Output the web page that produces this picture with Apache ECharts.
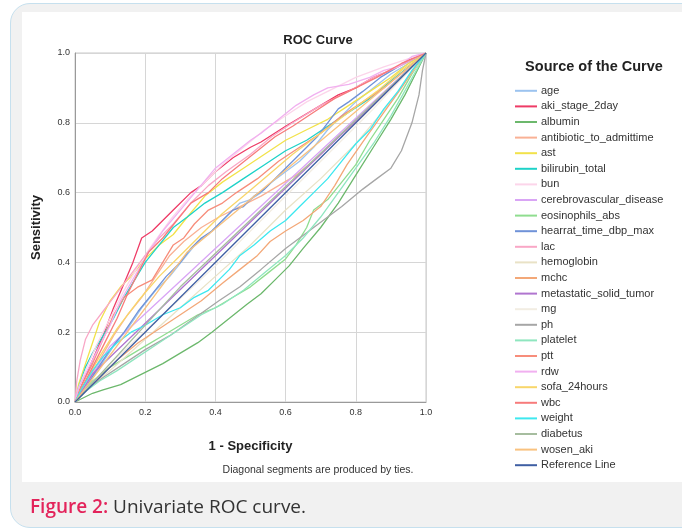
<!DOCTYPE html>
<html>
<head>
<meta charset="utf-8">
<script src="https://cdn.jsdelivr.net/npm/echarts@6/dist/echarts.min.js"></script>
<style>
  html, body { margin: 0; padding: 0; background: #fff; }
  #frame { position: absolute; left: 10px; top: 3px; width: 700px; height: 523px; background: #f1f1f1; border: 1px solid #c6e0ee; border-radius: 20px; }
  #panel { position: absolute; left: 22px; top: 12px; width: 660px; height: 470px; background: #fff; }
  #chart { position: absolute; left: 0; top: 0; width: 682px; height: 532px; }
  #caption { position: absolute; left: 30px; top: 493px; font-family: "Open Sans", sans-serif; font-size: 19px; color: #333; }
  #caption b { color: #e3245b; font-weight: 600; }
</style>
</head>
<body>
<div id="frame"></div>
<div id="panel"></div>
<div id="chart"></div>
<div id="caption"><b>Figure 2:</b> Univariate ROC curve.</div>
<script>
  // curve names in legend order
  const names = [
    "age", "aki_stage_2day", "albumin", "antibiotic_to_admittime", "ast", "bilirubin_total",
    "bun", "cerebrovascular_disease", "eosinophils_abs", "hearrat_time_dbp_max", "lac",
    "hemoglobin", "mchc", "metastatic_solid_tumor", "mg", "ph", "platelet", "ptt", "rdw",
    "sofa_24hours", "wbc", "weight", "diabetus", "wosen_aki", "Reference Line",
  ];
  const colors = [
    "#9cc3ef", "#ee3b66", "#6cb86c", "#f9b195", "#f2e24a", "#1ed2c8",
    "#fcd5ea", "#d9a5f5", "#8fdd8f", "#6f92d8", "#f9a7c6",
    "#e9e2c6", "#f3a878", "#b075cf", "#f2ede2", "#a6a6a6", "#8fe6bf", "#f78d7b", "#f1b0f0",
    "#f8d66a", "#f77b7b", "#3ee8ef", "#a6bd9f", "#f9c27f", "#3f5fa3",
  ];

  // [1 - specificity, sensitivity]
  const age = [[0,0],[0.03,0.04],[0.07,0.1],[0.11,0.16],[0.15,0.21],[0.19,0.27],[0.23,0.32],[0.27,0.36],[0.31,0.41],[0.35,0.46],[0.38,0.48],[0.41,0.51],[0.44,0.54],[0.47,0.57],[0.5,0.58],[0.53,0.6],[0.56,0.63],[0.6,0.66],[0.64,0.69],[0.68,0.73],[0.72,0.78],[0.76,0.82],[0.8,0.86],[0.85,0.9],[0.9,0.94],[0.95,0.97],[1,1]];
  const akiStage = [[0,0],[0.02,0.05],[0.05,0.12],[0.08,0.19],[0.11,0.27],[0.14,0.34],[0.165,0.4],[0.19,0.47],[0.22,0.49],[0.25,0.52],[0.28,0.55],[0.33,0.6],[0.36,0.62],[0.4,0.66],[0.45,0.7],[0.5,0.73],[0.53,0.745],[0.6,0.79],[0.65,0.82],[0.7,0.85],[0.75,0.88],[0.8,0.9],[0.85,0.93],[0.9,0.95],[0.95,0.98],[1,1]];
  const albumin = [[0,0],[0.02,0.01],[0.05,0.025],[0.08,0.035],[0.13,0.05],[0.2,0.085],[0.25,0.11],[0.3,0.14],[0.35,0.17],[0.39,0.2],[0.44,0.24],[0.49,0.28],[0.53,0.31],[0.57,0.35],[0.61,0.39],[0.65,0.44],[0.7,0.5],[0.75,0.57],[0.8,0.65],[0.85,0.73],[0.9,0.81],[0.94,0.88],[0.97,0.94],[1,1]];
  const antibiotic = [[0,0],[0.03,0.05],[0.07,0.12],[0.11,0.19],[0.15,0.25],[0.19,0.3],[0.23,0.36],[0.27,0.42],[0.31,0.46],[0.36,0.5],[0.41,0.53],[0.47,0.56],[0.53,0.59],[0.58,0.62],[0.63,0.65],[0.69,0.7],[0.75,0.76],[0.81,0.81],[0.87,0.87],[0.93,0.93],[1,1]];
  const ast = [[0,0],[0.01,0.05],[0.03,0.11],[0.05,0.17],[0.07,0.23],[0.1,0.29],[0.13,0.33],[0.16,0.36],[0.2,0.41],[0.24,0.45],[0.28,0.48],[0.32,0.53],[0.37,0.59],[0.42,0.63],[0.48,0.67],[0.54,0.71],[0.6,0.75],[0.66,0.78],[0.72,0.81],[0.78,0.85],[0.84,0.89],[0.9,0.93],[0.95,0.97],[1,1]];
  const bilirubin = [[0,0],[0.01,0.04],[0.03,0.1],[0.05,0.14],[0.08,0.19],[0.11,0.24],[0.14,0.3],[0.17,0.35],[0.2,0.4],[0.24,0.45],[0.28,0.5],[0.32,0.53],[0.37,0.57],[0.42,0.6],[0.48,0.64],[0.54,0.68],[0.6,0.72],[0.66,0.75],[0.72,0.79],[0.78,0.83],[0.84,0.87],[0.9,0.92],[0.95,0.96],[1,1]];
  const bun = [[0,0],[0.01,0.04],[0.03,0.09],[0.06,0.16],[0.1,0.24],[0.14,0.32],[0.18,0.39],[0.22,0.45],[0.27,0.52],[0.32,0.58],[0.37,0.63],[0.42,0.68],[0.48,0.73],[0.54,0.78],[0.6,0.82],[0.66,0.86],[0.72,0.89],[0.8,0.93],[0.88,0.96],[0.94,0.98],[1,1]];
  const cerebro = [[0,0],[0.1,0.16],[1,1]];
  const eosinophils = [[0,0],[0.02,0.03],[0.05,0.06],[0.1,0.1],[0.15,0.13],[0.2,0.16],[0.25,0.19],[0.3,0.22],[0.35,0.25],[0.4,0.27],[0.45,0.3],[0.5,0.33],[0.55,0.37],[0.6,0.41],[0.63,0.45],[0.66,0.5],[0.68,0.55],[0.72,0.58],[0.76,0.63],[0.8,0.68],[0.84,0.75],[0.88,0.81],[0.92,0.87],[0.96,0.94],[1,1]];
  const hearrat = [[0,0],[0.03,0.04],[0.06,0.09],[0.1,0.15],[0.14,0.2],[0.18,0.26],[0.22,0.31],[0.26,0.36],[0.3,0.4],[0.33,0.44],[0.36,0.47],[0.39,0.49],[0.42,0.52],[0.45,0.55],[0.48,0.56],[0.51,0.59],[0.54,0.61],[0.57,0.64],[0.6,0.67],[0.63,0.7],[0.66,0.73],[0.69,0.76],[0.72,0.8],[0.75,0.84],[0.78,0.86],[0.82,0.89],[0.87,0.93],[0.92,0.96],[1,1]];
  const lac = [[0,0],[0.005,0.06],[0.015,0.12],[0.03,0.18],[0.05,0.22],[0.08,0.26],[0.11,0.3],[0.14,0.34],[0.17,0.38],[0.2,0.42],[0.24,0.47],[0.28,0.51],[0.33,0.57],[0.38,0.62],[0.43,0.66],[0.5,0.71],[0.56,0.76],[0.62,0.8],[0.7,0.85],[0.78,0.89],[0.85,0.93],[0.92,0.96],[1,1]];
  const hemoglobin = [[0,0],[0.05,0.05],[0.1,0.09],[0.2,0.18],[0.3,0.27],[0.4,0.36],[0.5,0.45],[0.6,0.55],[0.7,0.64],[0.8,0.74],[0.9,0.86],[0.95,0.93],[1,1]];
  const mchc = [[0,0],[0.03,0.03],[0.07,0.07],[0.12,0.12],[0.18,0.17],[0.24,0.21],[0.3,0.25],[0.36,0.29],[0.42,0.34],[0.47,0.38],[0.52,0.42],[0.556,0.46],[0.6,0.49],[0.65,0.52],[0.7,0.56],[0.74,0.62],[0.775,0.68],[0.83,0.76],[0.88,0.83],[0.93,0.9],[0.97,0.96],[1,1]];
  const metastatic = [[0,0],[0.05,0.08],[1,1]];
  const mg = [[0,0],[0.1,0.11],[0.25,0.25],[0.4,0.39],[0.55,0.54],[0.7,0.69],[0.85,0.84],[1,1]];
  const ph = [[0,0],[0.04,0.04],[0.08,0.07],[0.14,0.11],[0.2,0.15],[0.27,0.19],[0.34,0.24],[0.41,0.29],[0.47,0.33],[0.53,0.38],[0.6,0.44],[0.68,0.5],[0.76,0.56],[0.82,0.61],[0.86,0.64],[0.9,0.67],[0.93,0.72],[0.96,0.8],[0.98,0.88],[0.99,0.95],[1,1]];
  const platelet = [[0,0],[0.03,0.03],[0.07,0.06],[0.12,0.09],[0.18,0.13],[0.24,0.17],[0.3,0.21],[0.36,0.25],[0.42,0.28],[0.48,0.32],[0.54,0.37],[0.6,0.42],[0.65,0.47],[0.7,0.53],[0.75,0.6],[0.8,0.67],[0.85,0.74],[0.9,0.82],[0.95,0.91],[1,1]];
  const ptt = [[0,0],[0.02,0.05],[0.05,0.11],[0.08,0.18],[0.11,0.25],[0.14,0.3],[0.18,0.33],[0.22,0.35],[0.25,0.4],[0.28,0.45],[0.31,0.47],[0.34,0.51],[0.38,0.55],[0.42,0.57],[0.46,0.6],[0.52,0.64],[0.58,0.69],[0.64,0.73],[0.7,0.77],[0.76,0.82],[0.82,0.86],[0.88,0.9],[0.94,0.95],[1,1]];
  const rdw = [[0,0],[0.01,0.04],[0.03,0.08],[0.06,0.14],[0.1,0.22],[0.13,0.29],[0.17,0.36],[0.21,0.43],[0.25,0.49],[0.3,0.55],[0.35,0.61],[0.4,0.67],[0.45,0.71],[0.5,0.75],[0.53,0.77],[0.58,0.81],[0.63,0.85],[0.68,0.88],[0.72,0.9],[0.78,0.91],[0.84,0.93],[0.88,0.95],[0.92,0.96],[0.96,0.99],[1,1]];
  const sofa = [[0,0],[0.03,0.06],[0.07,0.13],[0.12,0.21],[0.18,0.29],[0.24,0.36],[0.3,0.42],[0.36,0.48],[0.42,0.54],[0.48,0.59],[0.55,0.65],[0.62,0.71],[0.7,0.77],[0.78,0.83],[0.86,0.89],[0.93,0.95],[1,1]];
  const wbc = [[0,0],[0.02,0.04],[0.05,0.1],[0.08,0.16],[0.12,0.24],[0.15,0.31],[0.18,0.37],[0.21,0.43],[0.25,0.47],[0.29,0.52],[0.33,0.57],[0.38,0.6],[0.42,0.64],[0.47,0.68],[0.52,0.72],[0.57,0.76],[0.62,0.79],[0.68,0.83],[0.74,0.87],[0.8,0.9],[0.86,0.93],[0.93,0.97],[1,1]];
  const weight = [[0,0],[0.02,0.04],[0.05,0.09],[0.08,0.13],[0.12,0.17],[0.16,0.2],[0.2,0.22],[0.25,0.25],[0.3,0.27],[0.34,0.3],[0.38,0.32],[0.41,0.35],[0.44,0.38],[0.47,0.42],[0.51,0.45],[0.556,0.49],[0.6,0.52],[0.64,0.56],[0.68,0.6],[0.72,0.64],[0.76,0.69],[0.8,0.74],[0.84,0.78],[0.88,0.84],[0.92,0.89],[0.96,0.95],[1,1]];
  const diabetus = [[0,0],[0.3,0.33],[1,1]];
  const wosenAki = [[0,0],[0.32,0.43],[1,1]];
  const refLine = [[0,0],[1,1]];

  const curves = [
    age, akiStage, albumin, antibiotic, ast, bilirubin, bun, cerebro, eosinophils, hearrat, lac,
    hemoglobin, mchc, metastatic, mg, ph, platelet, ptt, rdw, sofa, wbc, weight, diabetus, wosenAki, refLine,
  ];
  const ticks = [0, 0.2, 0.4, 0.6, 0.8, 1.0];

  const font = "Liberation Sans";
  const chart = echarts.init(document.getElementById("chart"), null, { renderer: "canvas" });

  const axisCommon = {
    type: "value",
    min: ticks[0],
    max: ticks[ticks.length - 1],
    interval: 0.2,
    nameLocation: "middle",
    nameTextStyle: { fontFamily: font, fontWeight: "bold", fontSize: 13, color: "#222" },
    axisLine: { show: true, lineStyle: { color: "#9a9a9a", width: 1 } },
    axisTick: { show: false },
    axisLabel: { fontFamily: font, fontSize: 9, color: "#333", formatter: v => v.toFixed(1) },
    splitLine: { show: true, lineStyle: { color: "#d6d6d6", width: 1 } },
  };

  const option = {
    animation: false,
    color: colors,
    grid: { left: 75, right: 256, top: 53, bottom: 130, show: true, borderColor: "#c8c8c8", borderWidth: 1 },
    xAxis: { ...axisCommon, name: "1 - Specificity", nameGap: 38, axisLabel: { ...axisCommon.axisLabel, margin: 6 } },
    yAxis: { ...axisCommon, name: "Sensitivity", nameGap: 32, axisLabel: { ...axisCommon.axisLabel, margin: 5 } },
    legend: {
      orient: "vertical",
      left: 510,
      top: 78,
      icon: "rect",
      itemWidth: 22,
      itemHeight: 2,
      itemGap: 0,
      selectedMode: false,
      textStyle: { fontFamily: font, fontSize: 11, lineHeight: 15.6, color: "#333", padding: [0, 0, 0, -1] },
      data: names,
    },
    graphic: [
      { type: "text", x: 318, y: 40, style: { text: "ROC Curve", font: `bold 13px "${font}"`, fill: "#222", align: "center", verticalAlign: "middle" } },
      { type: "text", x: 594, y: 67, style: { text: "Source of the Curve", font: `bold 14.5px "${font}"`, fill: "#222", align: "center", verticalAlign: "middle" } },
      { type: "text", x: 318, y: 470, style: { text: "Diagonal segments are produced by ties.", font: `10.5px "${font}"`, fill: "#333", align: "center", verticalAlign: "middle" } },
    ],
    series: curves.map((data, i) => ({
      name: names[i],
      type: "line",
      data,
      symbol: "none",
      silent: true,
      lineStyle: { width: 1.3, color: colors[i] },
      itemStyle: { color: colors[i] },
    })),
  };

  chart.setOption(option);
</script>
</body>
</html>
